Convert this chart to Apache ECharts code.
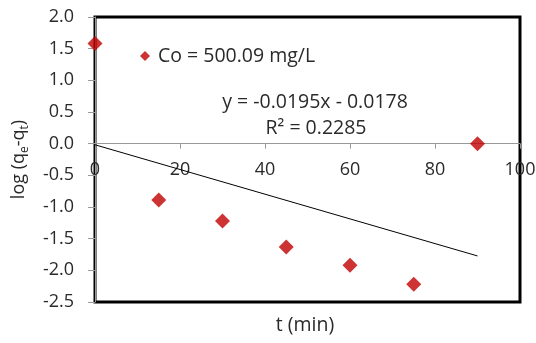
<!DOCTYPE html>
<html>
<head>
<meta charset="utf-8">
<script src="https://cdn.jsdelivr.net/npm/echarts@6/dist/echarts.min.js"></script>
<style>
  html, body { margin: 0; padding: 0; background: #fff; }
  #chart { width: 536px; height: 343px; }
</style>
</head>
<body>
<div id="chart"></div>
<script>
// measured points
const timeMin = [0, 15, 30, 45, 60, 75, 90];
const logQ = [1.58, -0.89, -1.22, -1.63, -1.92, -2.22, 0.0];
// linear trendline end points (y = -0.0195x - 0.0178)
const trendX = [0, 90];
const trendY = [-0.0178, -1.7728];
const seriesName = "Co = 500.09 mg/L";
const eqLine = "y = -0.0195x - 0.0178";
const r2Line = "R² = 0.2285";

const font = "Open Sans";
const txt = "#2a2a2a";
const chart = echarts.init(document.getElementById("chart"));

// plot box: 95..520 x 17..302, zero line sits 2/4.5 of the way down
const plotTop = 17, plotBottom = 41, plotH = 343 - plotTop - plotBottom;
const zeroH = plotH * 2 / 4.5;

const option = {
  animation: false,
  textStyle: { fontFamily: font },
  grid: [
    {
      left: 95, right: 16, top: plotTop, bottom: plotBottom,
      outerBoundsMode: "none",
      show: true, borderColor: "#000", borderWidth: 3, backgroundColor: "#fff"
    },
    // upper half only, so its x axis lands on y = 0
    { left: 95, right: 16, top: plotTop, height: zeroH, outerBoundsMode: "none" }
  ],
  legend: {
    left: 135,
    top: 41,
    icon: "diamond",
    itemWidth: 10,
    itemHeight: 10,
    itemGap: 10,
    textStyle: { fontSize: 19.5, color: txt, fontFamily: font, padding: [0, 0, 0, 3] },
    data: [seriesName]
  },
  xAxis: [
    {
      type: "value", gridIndex: 0, min: 0, max: 100, interval: 20,
      axisLine: { show: false }, axisTick: { show: false },
      axisLabel: { show: false }, splitLine: { show: false }
    },
    {
      type: "value", gridIndex: 1, min: 0, max: 100, interval: 20,
      axisLine: { show: true, lineStyle: { color: "#999", width: 1 } },
      axisTick: { show: true, length: 5, lineStyle: { color: "#999" } },
      axisLabel: { fontSize: 18, color: txt, margin: 17, fontFamily: font },
      splitLine: { show: false }
    }
  ],
  yAxis: [
    {
      type: "value", gridIndex: 0, min: -2.5, max: 2, interval: 0.5,
      name: "{a|log (q}{s|e}{a|-q}{s|t}{a|)}",
      nameLocation: "middle",
      nameRotate: 90,
      nameGap: 64,
      nameTextStyle: {
        rich: {
          a: { fontSize: 18, color: txt, fontFamily: font, lineHeight: 24, verticalAlign: "middle" },
          s: { fontSize: 12, color: txt, fontFamily: font, lineHeight: 24, verticalAlign: "bottom" }
        }
      },
      axisLine: { show: true, lineStyle: { color: "#999" } },
      axisTick: { show: true, length: 7, lineStyle: { color: "#999" } },
      axisLabel: {
        fontSize: 18, color: txt, margin: 21, fontFamily: font,
        formatter: v => v.toFixed(1)
      },
      splitLine: { show: false }
    },
    {
      type: "value", gridIndex: 1, min: 0, max: 2, show: false
    }
  ],
  graphic: [
    {
      type: "text", x: 305, y: 325,
      style: { text: "t (min)", font: "19.5px " + font, fill: txt, align: "center", verticalAlign: "middle" }
    },
    {
      type: "text", x: 315, y: 102,
      style: { text: eqLine, font: "19.5px " + font, fill: txt, align: "center", verticalAlign: "middle" }
    },
    {
      type: "text", x: 316, y: 128,
      style: { text: r2Line, font: "19.5px " + font, fill: txt, align: "center", verticalAlign: "middle" }
    }
  ],
  series: [
    {
      name: "trend",
      type: "line",
      xAxisIndex: 0, yAxisIndex: 0,
      data: trendX.map((x, i) => [x, trendY[i]]),
      showSymbol: false,
      symbol: "none",
      lineStyle: { color: "#000", width: 1 },
      z: 2
    },
    {
      name: seriesName,
      type: "scatter",
      xAxisIndex: 0, yAxisIndex: 0,
      data: timeMin.map((x, i) => [x, logQ[i]]),
      symbol: "diamond",
      symbolSize: 15,
      itemStyle: { color: "#C00000" },
      z: 3
    }
  ]
};

chart.setOption(option);
</script>
</body>
</html>
